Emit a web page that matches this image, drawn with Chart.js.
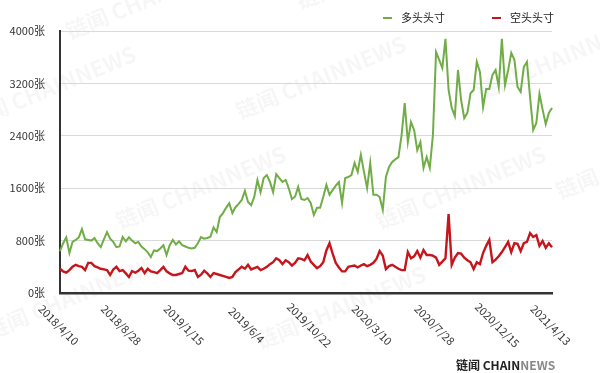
<!DOCTYPE html>
<html>
<head>
<meta charset="utf-8">
<script src="https://cdn.jsdelivr.net/npm/chart.js@4"></script>
<style>
  html, body { margin: 0; padding: 0; background: #fff; }
  #wrap { width: 600px; height: 373px; position: relative; }
</style>
</head>
<body>
<div id="wrap"><canvas id="chart" width="600" height="373"></canvas></div>
<script>
// --- data, weekly from 2018/4/10 to 2021/4/13 ---
const startDate = [2018, 4, 10];
const weekCount = 158;

const longPos = [
  640, 760, 850, 610, 780, 810, 850, 975, 820, 810,
  800, 840, 760, 700, 820, 930, 830, 780, 700, 710,
  855, 790, 850, 800, 760, 780, 710, 670, 620, 550,
  650, 640, 680, 730, 580, 730, 810, 740, 790, 730,
  710, 690, 680, 690, 760, 855, 830, 840, 860, 1000,
  930, 1160, 1220, 1300, 1370, 1220, 1310, 1360, 1420, 1560,
  1390, 1340, 1470, 1725, 1540, 1755, 1800, 1695, 1540, 1815,
  1755, 1695, 1725, 1600, 1435, 1470, 1620, 1435, 1420, 1450,
  1375, 1190, 1300, 1300, 1465, 1650, 1500, 1570, 1640, 1695,
  1375, 1755, 1770, 1800, 1985, 1850, 2110, 1850, 1600, 1985,
  1500, 1500, 1465, 1270, 1770, 1925, 2000, 2040, 2075, 2410,
  2900, 2305, 2610, 2490, 2180, 2305, 1910, 2075, 1910, 2410,
  3680, 3560, 3435, 3880, 3100, 2825, 2700, 3405, 2945, 2670,
  2750, 3050, 3100, 3530, 3375, 2840, 3115, 3115, 3330, 3405,
  3145, 3880, 3175, 3400, 3665, 3560, 3145, 3070, 3450, 3530,
  2990, 2490, 2595, 3040, 2800, 2580, 2750, 2825
];

const shortPos = [
  370, 330, 310, 350, 400, 430, 410, 400, 350, 460,
  460, 410, 390, 370, 360, 350, 275, 360, 400, 335,
  350, 300, 245, 335, 310, 340, 380, 305, 370, 330,
  320, 305, 350, 400, 330, 300, 275, 275, 290, 305,
  400, 340, 335, 350, 245, 280, 340, 300, 245, 305,
  290, 275, 260, 245, 230, 245, 320, 360, 400, 370,
  430, 360, 380, 400, 350, 370, 400, 440, 470, 530,
  500, 440, 500, 470, 420, 460, 530, 520, 500, 580,
  480, 430, 380, 410, 470, 650, 760, 600, 460, 390,
  330, 330, 400, 410, 420, 390, 420, 440, 410, 430,
  460, 520, 640, 570, 365, 410, 430, 400, 370, 350,
  350, 625, 530, 560, 640, 540, 655, 580, 580, 570,
  540, 430, 480, 530, 1205, 430, 540, 610, 600, 540,
  500, 470, 365, 470, 440, 610, 720, 810, 470, 510,
  560, 625, 700, 780, 625, 760, 750, 640, 760, 780,
  915, 855, 885, 720, 795, 690, 760, 700
];

const tickLabels = ["2018/4/10", "2018/8/28", "2019/1/15", "2019/6/4", "2019/10/22",
                    "2020/3/10", "2020/7/28", "2020/12/15", "2021/4/13"];
const yTicks = [0, 800, 1600, 2400, 3200, 4000];
const seriesNames = ["多头头寸", "空头头寸"];
const seriesColors = ["#70ad47", "#c4161c"];

// weekly category labels
const dates = [];
const d0 = new Date(startDate[0], startDate[1] - 1, startDate[2]);
for (let i = 0; i < weekCount; i++) {
  const d = new Date(d0.getTime() + i * 7 * 86400000 + 3600000);
  dates.push(d.getFullYear() + "/" + (d.getMonth() + 1) + "/" + d.getDate());
}

const FONT = '"Noto Sans CJK SC", "Noto Sans", sans-serif';

// rotated x labels, legend and watermark drawn by hand
const decoPlugin = {
  id: 'deco',
  beforeDraw(chart) {
    const ctx = chart.ctx;
    ctx.save();
    ctx.fillStyle = 'rgba(0,0,0,0.035)';
    ctx.font = 'bold 22px ' + FONT;
    const spots = [[70, 40], [300, 10], [-30, 130], [240, 120], [480, 100],
                   [120, 230], [380, 230], [-10, 340], [260, 350], [560, 200]];
    spots.forEach(([x, y]) => {
      ctx.save();
      ctx.translate(x, y);
      ctx.rotate(-Math.PI / 8);
      ctx.fillText('链闻 CHAINNEWS', 0, 0);
      ctx.restore();
    });
    ctx.restore();
  },
  afterDraw(chart) {
    const ctx = chart.ctx;
    const xs = chart.scales.x;
    ctx.save();
    ctx.fillStyle = '#333';
    ctx.font = '11px ' + FONT;
    ctx.textAlign = 'center';
    ctx.textBaseline = 'middle';
    tickLabels.forEach(lbl => {
      const idx = dates.indexOf(lbl);
      if (idx < 0) return;
      const x = xs.getPixelForValue(idx) - 1.5;
      ctx.save();
      ctx.translate(x, 325);
      ctx.rotate(Math.PI / 4);
      ctx.fillText(lbl, 0, 0);
      ctx.restore();
    });

    // legend
    ctx.font = '11px ' + FONT;
    ctx.textAlign = 'left';
    const legendX = [383, 492];
    seriesNames.forEach((name, i) => {
      ctx.strokeStyle = seriesColors[i];
      ctx.lineWidth = 2;
      ctx.beginPath();
      ctx.moveTo(legendX[i], 18);
      ctx.lineTo(legendX[i] + 9, 18);
      ctx.stroke();
      ctx.fillStyle = '#222';
      ctx.fillText(name, legendX[i] + 18, 18);
    });

    // logo
    ctx.font = 'bold 12px ' + FONT;
    ctx.fillStyle = '#222';
    ctx.fillText('链闻 CHAIN', 456, 365);
    const w = ctx.measureText('链闻 CHAIN').width;
    ctx.fillStyle = '#888';
    ctx.fillText('NEWS', 456 + w, 365);
    ctx.restore();
  }
};

new Chart(document.getElementById('chart'), {
  type: 'line',
  data: {
    labels: dates,
    datasets: [
      { label: seriesNames[0], data: longPos, borderColor: seriesColors[0], borderWidth: 2,
        pointRadius: 0, tension: 0, fill: false },
      { label: seriesNames[1], data: shortPos, borderColor: seriesColors[1], borderWidth: 2.4,
        pointRadius: 0, tension: 0, fill: false }
    ]
  },
  options: {
    responsive: false,
    animation: false,
    layout: { padding: { top: 31, right: 48, bottom: 80, left: 0 } },
    plugins: { legend: { display: false }, tooltip: { enabled: false } },
    scales: {
      x: {
        type: 'category',
        offset: false,
        grid: { display: false, drawTicks: false },
        border: { display: true, color: '#333', width: 2.5 },
        ticks: { display: false },
        afterFit(s) { s.height = 0; }
      },
      y: {
        min: 0, max: 4000,
        afterBuildTicks(s) { s.ticks = yTicks.map(v => ({ value: v })); },
        grid: { color: '#d9d9d9', lineWidth: 1, drawTicks: false },
        border: { display: true, color: '#333', width: 2 },
        ticks: {
          padding: 15, color: '#333',
          font: { size: 11, family: FONT },
          callback: v => v + '张'
        },
        afterFit(s) { s.width = 60; }
      }
    }
  },
  plugins: [decoPlugin]
});
</script>
</body>
</html>
